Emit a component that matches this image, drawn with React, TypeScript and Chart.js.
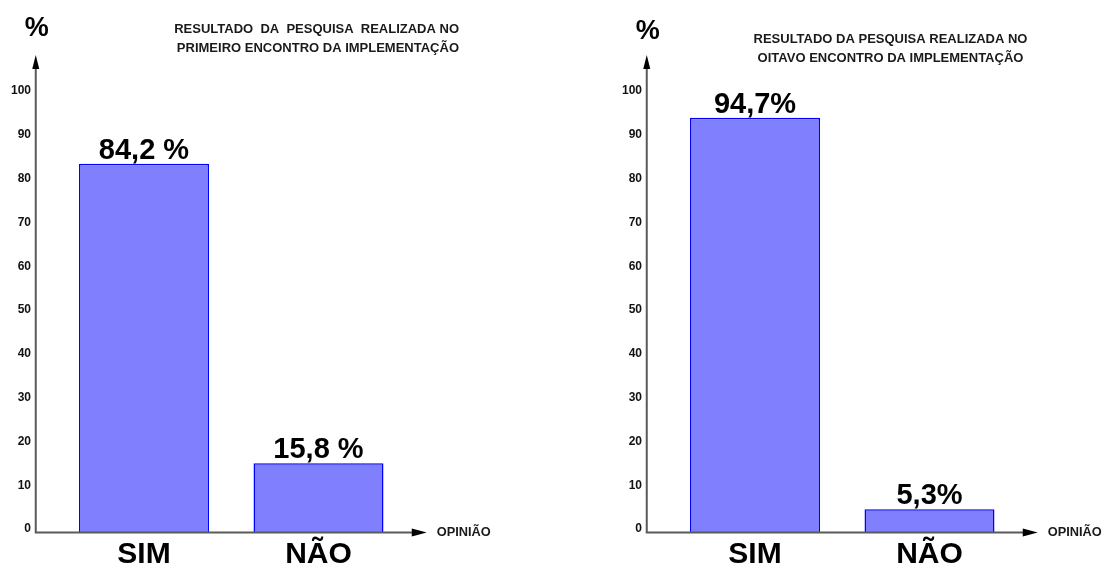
import { useEffect, useRef } from 'react';
import { Chart, registerables } from 'chart.js';

Chart.register(...registerables);

// Survey answers (percent of respondents)
const categories = ['SIM', 'NÃO'];
const firstMeetingValues = [84.2, 15.8];
const eighthMeetingValues = [94.7, 5.3];

// Y axis range and tick step
const yMin = 0;
const yMax = 100;
const yStep = 10;

const firstMeetingTitle = ['RESULTADO  DA  PESQUISA  REALIZADA NO', 'PRIMEIRO ENCONTRO DA IMPLEMENTAÇÃO'];
const eighthMeetingTitle = ['RESULTADO DA PESQUISA REALIZADA NO', 'OITAVO ENCONTRO DA IMPLEMENTAÇÃO'];
const yAxisUnit = '%';
const xAxisName = 'OPINIÃO';

const FONT = '"Liberation Sans", Arial, Helvetica, sans-serif';
const CANVAS_W = 494;
const CANVAS_H = 567;

type PanelProps = {
  values: number[];
  title: string[];
  titleAlign: CanvasTextAlign;
  titleX: number;
  titleY: [number, number];
  unitY: number;
  valueSuffix: string;
  left: number;
};

function formatValue(v: number, suffix: string) {
  return v.toFixed(1).replace('.', ',') + suffix;
}

function SurveyChart(props: PanelProps) {
  const ref = useRef<HTMLCanvasElement>(null);

  useEffect(() => {
    const { values, title, titleAlign, titleX, titleY, unitY, valueSuffix } = props;

    // Axes with arrowheads, unit/axis names, title and value labels
    const decor = {
      id: 'surveyDecor',
      afterDatasetsDraw(chart: any) {
        const { ctx, chartArea, scales } = chart;
        const zeroY = scales.y.getPixelForValue(0);
        const axisX = chartArea.left - 21;
        const yTip = chartArea.top - 39.5;
        const xTip = chartArea.right + 21;
        ctx.save();

        // value labels above the bars
        const meta = chart.getDatasetMeta(0);
        ctx.fillStyle = '#000';
        ctx.font = `bold 29px ${FONT}`;
        ctx.textAlign = 'center';
        ctx.textBaseline = 'alphabetic';
        meta.data.forEach((bar: any, i: number) => {
          ctx.fillText(formatValue(values[i], valueSuffix), bar.x, bar.y - 5);
        });

        // axis lines
        ctx.strokeStyle = '#5a5a5a';
        ctx.lineWidth = 2;
        ctx.beginPath();
        ctx.moveTo(axisX, zeroY + 1);
        ctx.lineTo(axisX, yTip + 13);
        ctx.moveTo(axisX - 1, zeroY);
        ctx.lineTo(xTip - 14, zeroY);
        ctx.stroke();

        // arrowheads
        ctx.fillStyle = '#000';
        ctx.beginPath();
        ctx.moveTo(axisX, yTip);
        ctx.lineTo(axisX + 3.5, yTip + 14);
        ctx.lineTo(axisX - 3.5, yTip + 14);
        ctx.closePath();
        ctx.fill();
        ctx.beginPath();
        ctx.moveTo(xTip, zeroY);
        ctx.lineTo(xTip - 15, zeroY - 4);
        ctx.lineTo(xTip - 15, zeroY + 4);
        ctx.closePath();
        ctx.fill();

        // unit above the y axis
        ctx.fillStyle = '#000';
        ctx.font = `bold 27px ${FONT}`;
        ctx.textAlign = 'center';
        ctx.textBaseline = 'middle';
        ctx.fillText(yAxisUnit, axisX + 1, unitY);

        // x axis name
        ctx.fillStyle = '#1a1a1a';
        ctx.font = `bold 12.8px ${FONT}`;
        ctx.textAlign = 'left';
        ctx.fillText(xAxisName, xTip + 10, zeroY);

        // title
        ctx.font = `bold 13px ${FONT}`;
        ctx.textAlign = titleAlign;
        ctx.fillText(title[0], titleX, titleY[0]);
        ctx.fillText(title[1], titleX, titleY[1]);
        ctx.restore();
      },
    };

    const chart = new Chart(ref.current!, {
      type: 'bar',
      data: {
        labels: categories,
        datasets: [
          {
            data: values,
            backgroundColor: '#8080FF',
            borderColor: '#0000FF',
            borderWidth: 1.5,
            borderSkipped: 'start',
            categoryPercentage: 1,
            barPercentage: 0.745,
          },
        ],
      },
      options: {
        responsive: false,
        maintainAspectRatio: false,
        animation: false,
        layout: { padding: { top: 94.5, right: 88.25, left: 0, bottom: 0 } },
        plugins: {
          legend: { display: false },
          tooltip: { enabled: false },
          title: { display: false },
        },
        scales: {
          x: {
            grid: { display: false, drawTicks: false },
            border: { display: false },
            ticks: {
              color: '#000',
              font: { family: FONT, size: 30, weight: 'bold', lineHeight: 1.2 },
              padding: 4,
              maxRotation: 0,
              autoSkip: false,
            },
            afterFit: (s: any) => {
              s.height = 34.5;
            },
          },
          y: {
            min: yMin,
            max: yMax,
            grid: { display: false, drawTicks: false },
            border: { display: false },
            ticks: {
              stepSize: yStep,
              color: '#111',
              font: { family: FONT, size: 12, weight: 'bold', lineHeight: '7px' },
              padding: 25.75,
              callback: (v: any) => [String(v), ''],
            },
            afterFit: (s: any) => {
              s.width = 56.75;
            },
          },
        },
      } as any,
      plugins: [decor],
    });
    return () => chart.destroy();
  }, []);

  return (
    <canvas
      ref={ref}
      width={CANVAS_W}
      height={CANVAS_H}
      style={{ position: 'absolute', top: 0, left: props.left, width: CANVAS_W, height: CANVAS_H, display: 'block' }}
    />
  );
}

export default function App() {
  return (
    <div style={{ position: 'fixed', left: 0, top: 0, width: 1105, height: 567, background: '#fff', overflow: 'hidden' }}>
      <SurveyChart
        values={firstMeetingValues}
        title={firstMeetingTitle}
        titleAlign="right"
        titleX={459}
        titleY={[29, 48.8]}
        unitY={29}
        valueSuffix=" %"
        left={0}
      />
      <SurveyChart
        values={eighthMeetingValues}
        title={eighthMeetingTitle}
        titleAlign="center"
        titleX={279.5}
        titleY={[39.2, 58.5]}
        unitY={32}
        valueSuffix="%"
        left={611}
      />
    </div>
  );
}
